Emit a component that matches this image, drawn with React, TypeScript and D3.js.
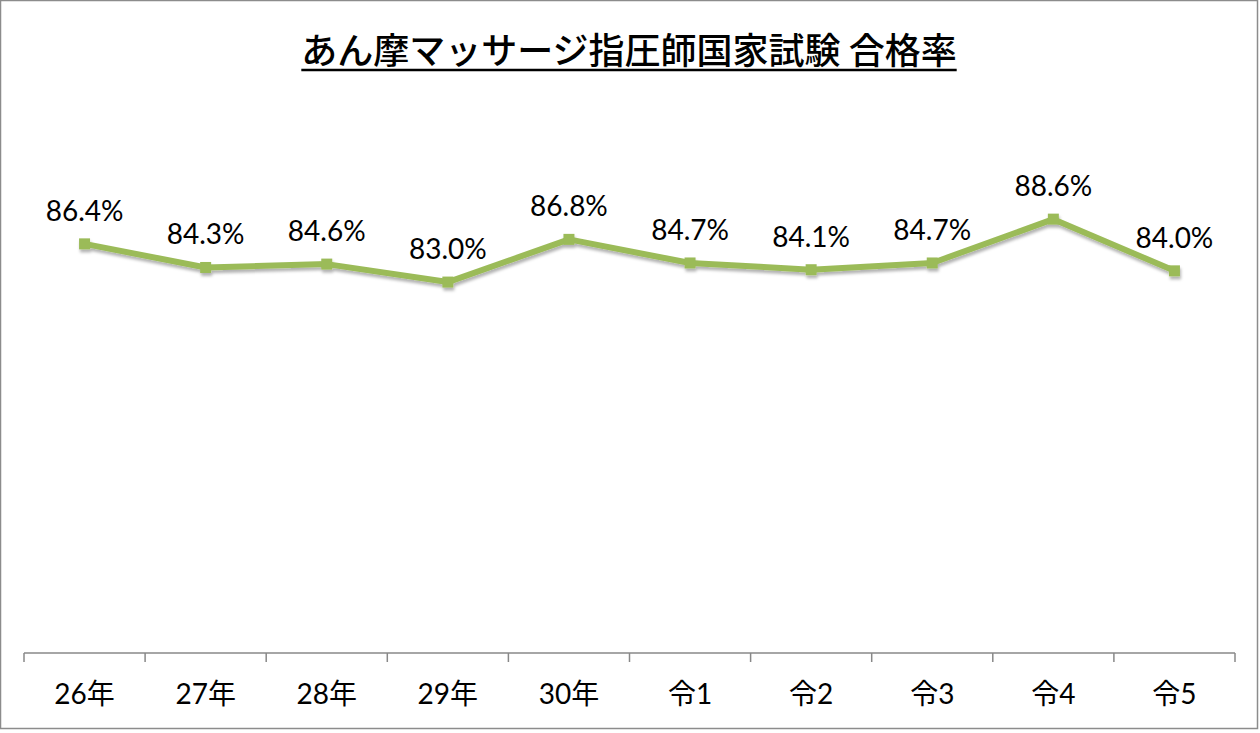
import { useRef, useEffect } from "react";
import * as d3 from "d3";

const categories = ["26年", "27年", "28年", "29年", "30年", "令1", "令2", "令3", "令4", "令5"];
const passRates = [86.4, 84.3, 84.6, 83.0, 86.8, 84.7, 84.1, 84.7, 88.6, 84.0];
const title = "あん摩マッサージ指圧師国家試験 合格率";

const width = 1260;
const height = 733;
const margin = { top: 91, right: 25, bottom: 80, left: 24 };

export default function App() {
  const svgRef = useRef<SVGSVGElement>(null);

  useEffect(() => {
    if (!svgRef.current) return;
    const svg = d3.select(svgRef.current);
    svg.selectAll("*").remove();

    const innerW = width - margin.left - margin.right;
    const innerH = height - margin.top - margin.bottom;

    const defs = svg.append("defs");
    const f = defs.append("filter").attr("id", "shadow").attr("x", "-20%").attr("y", "-20%").attr("width", "140%").attr("height", "160%");
    f.append("feDropShadow")
      .attr("dx", 1)
      .attr("dy", 3)
      .attr("stdDeviation", 1.5)
      .attr("flood-color", "#000")
      .attr("flood-opacity", 0.3);

    svg.append("rect")
      .attr("x", 0.5).attr("y", 0.5)
      .attr("width", width - 3).attr("height", height - 5)
      .attr("fill", "#fff")
      .attr("stroke", "#8c8c8c")
      .attr("stroke-width", 1.5);

    // title with underline
    const t = svg.append("text")
      .attr("x", 629).attr("y", 64)
      .attr("text-anchor", "middle")
      .attr("font-family", "'Noto Sans CJK JP', sans-serif")
      .attr("font-size", 36)
      .attr("font-weight", 500)
      .attr("fill", "#000")
      .text(title);
    const tb = (t.node() as SVGTextElement).getBBox();
    svg.append("line")
      .attr("x1", tb.x).attr("x2", tb.x + tb.width)
      .attr("y1", 70).attr("y2", 70)
      .attr("stroke", "#000").attr("stroke-width", 2.5);

    const g = svg.append("g").attr("transform", `translate(${margin.left},${margin.top})`);

    const x = d3.scaleBand().domain(categories).range([0, innerW]);
    const y = d3.scaleLinear().domain([50, 100]).range([innerH, 0]);

    // x axis
    const axis = g.append("g")
      .attr("transform", `translate(0,${innerH})`)
      .call(d3.axisBottom(x).tickSize(0).tickPadding(31));
    axis.select(".domain").remove();
    axis.selectAll(".tick text")
      .attr("font-family", "Lato, 'Noto Sans CJK JP', sans-serif")
      .attr("font-size", 28)
      .attr("fill", "#000");
    g.append("line")
      .attr("x1", 0).attr("x2", innerW)
      .attr("y1", innerH).attr("y2", innerH)
      .attr("stroke", "#888").attr("stroke-width", 1.5);
    const bounds = d3.range(categories.length + 1).map((i) => i * x.step());
    g.selectAll("line.tick-mark")
      .data(bounds)
      .join("line")
      .attr("class", "tick-mark")
      .attr("x1", (d) => d).attr("x2", (d) => d)
      .attr("y1", innerH).attr("y2", innerH + 9)
      .attr("stroke", "#888").attr("stroke-width", 1.5);

    const pts = categories.map((c, i) => ({ c, v: passRates[i] }));
    const cx = (d: { c: string }) => x(d.c)! + x.bandwidth() / 2;

    const line = d3.line<{ c: string; v: number }>().x(cx).y((d) => y(d.v));
    const series = g.append("g").attr("filter", "url(#shadow)");
    series.append("path")
      .datum(pts)
      .attr("d", line)
      .attr("fill", "none")
      .attr("stroke", "#9bbb59")
      .attr("stroke-width", 6)
      .attr("stroke-linejoin", "round");
    series.selectAll("rect")
      .data(pts)
      .join("rect")
      .attr("x", (d) => cx(d) - 5.5)
      .attr("y", (d) => y(d.v) - 5.5)
      .attr("width", 11).attr("height", 11)
      .attr("fill", "#9bbb59");

    g.selectAll("text.lbl")
      .data(pts)
      .join("text")
      .attr("class", "lbl")
      .attr("x", cx)
      .attr("y", (d) => y(d.v) - 23)
      .attr("text-anchor", "middle")
      .attr("font-family", "Lato, sans-serif")
      .attr("font-size", 28)
      .attr("fill", "#000")
      .text((d) => `${d.v.toFixed(1)}%`);
  }, []);

  return (
    <div style={{ position: "fixed", left: 0, top: 0 }}>
      <svg ref={svgRef} width={width} height={height} style={{ display: "block" }} />
    </div>
  );
}
